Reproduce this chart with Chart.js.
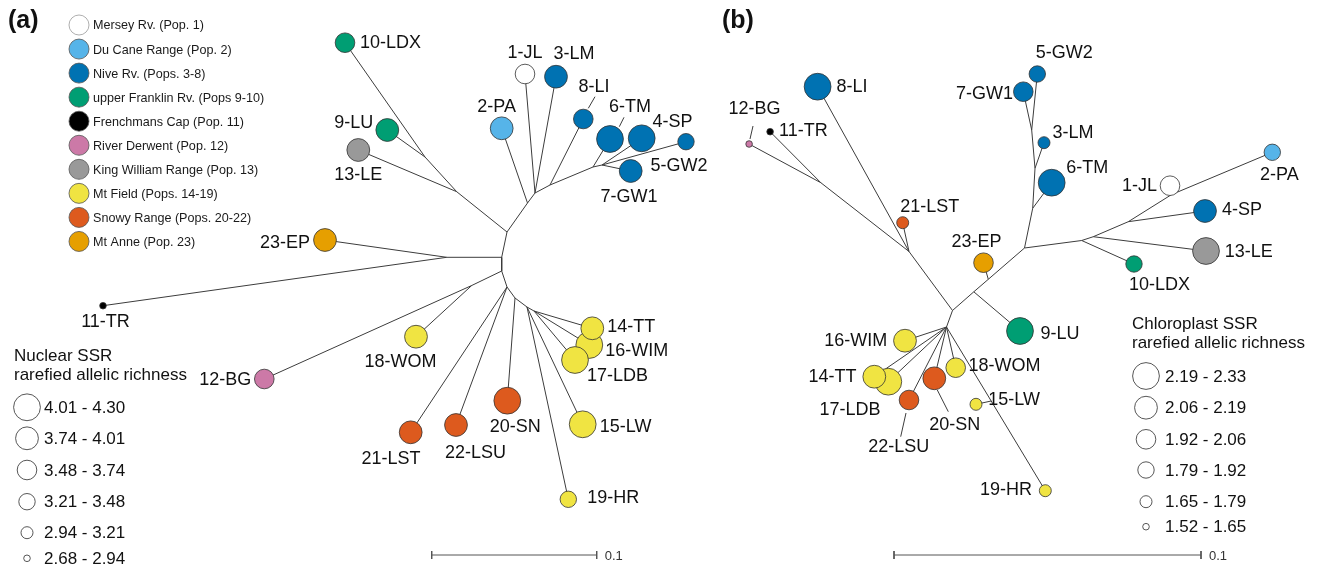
<!DOCTYPE html>
<html>
<head>
<meta charset="utf-8">
<script src="https://cdn.jsdelivr.net/npm/chart.js@4.4.1/dist/chart.umd.min.js"></script>
<style>
  html, body { margin: 0; padding: 0; background: #ffffff; }
  #wrap { position: relative; width: 1320px; height: 570px; }
  canvas { display: block; }
</style>
</head>
<body>
<div id="wrap"><canvas id="trees" width="1320" height="570"></canvas></div>
<script>
// ---- Populations and regions ----
const popCodes = ['1-JL','2-PA','3-LM','4-SP','5-GW2','6-TM','7-GW1','8-LI','9-LU','10-LDX','11-TR','12-BG',
                  '13-LE','14-TT','15-LW','16-WIM','17-LDB','18-WOM','19-HR','20-SN','21-LST','22-LSU','23-EP'];
const groupNames = ['Mersey Rv. (Pop. 1)','Du Cane Range (Pop. 2)','Nive Rv. (Pops. 3-8)','upper Franklin Rv. (Pops 9-10)',
                    'Frenchmans Cap (Pop. 11)','River Derwent (Pop. 12)','King William Range (Pop. 13)',
                    'Mt Field (Pops. 14-19)','Snowy Range (Pops. 20-22)','Mt Anne (Pop. 23)'];
const groupColors = ['#ffffff','#56b4e9','#0072b2','#009e73','#000000','#cc79a7','#999999','#f0e442','#dd5a1e','#e69f00'];
const popGroup = [0,1,2,2,2,2,2,2,3,3,4,5,6,7,7,7,7,7,7,8,8,8,9];

// ---- Nuclear SSR tree (a): tip layout, richness class, inner nodes, branches ----
const nuclearX = [525,501.7,556,641.7,686,610,630.7,583.3,387.3,345,103,264.3,358.3,592.3,582.7,589.3,575,416,568.3,507.3,410.7,456,325];
const nuclearY = [74,128.3,76.7,138.3,141.7,139,171,119,130,42.7,305.7,379,150,328.3,424.3,345,360,336.7,499.3,400.7,432.3,425,240];
const nuclearClass = [2,1,1,0,3,0,1,2,1,2,5,2,1,1,0,0,0,1,3,0,1,1,1];
const nuclearInnerX = [501.7,446.7,507,456.7,425,527.5,535,550,593,602,501.7,471.7,507,515,527,534];
const nuclearInnerY = [257.3,257.3,232,191.7,157,203,193,185,167,165,271,285.5,287,298,307,311];
const nuclearEdges = [
  ['n0','n1'],['n1','t23'],['n1','t11'],
  ['n0','n2'],['n2','n3'],['n3','t13'],['n3','n4'],['n4','t9'],['n4','t10'],
  ['n2','n5'],['n5','t2'],['n5','n6'],['n6','t1'],['n6','t3'],['n6','n7'],['n7','t8'],['n7','n8'],
  ['n8','t6'],['n8','n9'],['n9','t4'],['n9','t5'],['n9','t7'],
  ['n0','n10'],['n10','n11'],['n11','t18'],['n11','t12'],
  ['n10','n12'],['n12','t21'],['n12','t22'],['n12','n13'],['n13','t20'],['n13','n14'],
  ['n14','t19'],['n14','t15'],['n14','n15'],['n15','t14'],['n15','t16'],['n15','t17']
];
const nuclearBins = ['4.01 - 4.30','3.74 - 4.01','3.48 - 3.74','3.21 - 3.48','2.94 - 3.21','2.68 - 2.94'];

// ---- Chloroplast SSR tree (b) ----
const chloroX = [1170,1272.3,1044,1205,1037.3,1051.7,1023.3,817.6,1020,1134,770.1,749.1,1206,874.3,976,905,888.3,955.7,1045.3,934.3,902.7,909,983.5];
const chloroY = [185.7,152.3,142.7,211,74,182.7,91.7,86.7,331,264,131.7,144,251,376.7,404.3,340.7,381.7,367.7,490.7,378.3,222.7,400,262.7];
const chloroClass = [2,3,4,1,3,0,2,0,0,3,5,5,0,1,4,1,0,2,4,1,4,2,2];
const chloroInnerX = [952.5,909,820.8,973.8,988.3,1024.5,1032.7,1035,1031.7,1081.7,1093.3,1128.3,1171.7,946.5,991.2];
const chloroInnerY = [310.5,251.5,182.7,291.8,279.3,248,208.3,168.3,130,240.5,236.7,221.7,194.5,327,401];
const chloroEdges = [
  ['n0','n1'],['n1','t21'],['n1','t8'],['n1','n2'],['n2','t11'],['n2','t12'],
  ['n0','n3'],['n3','t9'],['n3','n4'],['n4','t23'],['n4','n5'],
  ['n5','n6'],['n6','t6'],['n6','n7'],['n7','t3'],['n7','n8'],['n8','t7'],['n8','t5'],
  ['n5','n9'],['n9','t10'],['n9','n10'],['n10','t13'],['n10','n11'],['n11','t4'],['n11','n12'],['n12','t1'],['n12','t2'],
  ['n0','n13'],['n13','t16'],['n13','t14'],['n13','t17'],['n13','t22'],['n13','t20'],['n13','t18'],
  ['n13','n14'],['n14','t15'],['n14','t19']
];
const chloroBins = ['2.19 - 2.33','2.06 - 2.19','1.92 - 2.06','1.79 - 1.92','1.65 - 1.79','1.52 - 1.65'];

// ---- Styling and placement ----
const classRadius = [13.4, 11.4, 9.8, 8.2, 6, 3.3];
const FONT = '"Liberation Sans", Arial, Helvetica, sans-serif';
const branchColor = '#3c3c3c';

// label offsets from the node: [dx, dy, align]
const nuclearLabelPos = [
  [0,-21,'center'],[-5,-21,'center'],[18,-23,'center'],[30.8,-16.3,'center'],[-7,24.3,'center'],
  [20,-32,'center'],[-1.7,26,'center'],[10.7,-32,'center'],[-14,-7,'right'],[15,0,'left'],
  [2.5,16,'center'],[-13,1,'right'],[0,25,'center'],[15,-1,'left'],[17,3,'left'],
  [16,6,'left'],[12,16,'left'],[-15.5,25,'center'],[19,-1,'left'],[8,26,'center'],
  [-19.7,27,'center'],[19.5,28,'center'],[-15,3,'right']
];
const chloroLabelPos = [
  [-13,0,'right'],[7,23,'center'],[8.5,-9.5,'left'],[17,-1,'left'],[27,-21,'center'],
  [14.6,-14.4,'left'],[-10.4,2.6,'right'],[19,0,'left'],[20.6,3.3,'left'],[25.4,21,'center'],
  [9,-1,'left'],[5.4,-34.7,'center'],[18.8,1.3,'left'],[-17.9,0,'right'],[12.3,-4.3,'left'],
  [-17.7,0,'right'],[-38.2,28.3,'center'],[12.8,-1.7,'left'],[-13.4,-0.7,'right'],[20.5,46.7,'center'],
  [27,-16,'center'],[-10.2,46.7,'center'],[-7,-21,'center']
];
const nuclearLeaders = [[595,96.7,588.3,108.3],[624,117.3,619.3,126.7]];
const chloroLeaders = [[750,139,753,126],[937.3,390,948.3,411.7],[906,413,900.7,436.7]];

const panels = [
  { tag: '(a)', tagX: 8, x: nuclearX, y: nuclearY, cls: nuclearClass, ix: nuclearInnerX, iy: nuclearInnerY,
    edges: nuclearEdges, labels: nuclearLabelPos, leaders: nuclearLeaders,
    bar: { x0: 431.7, x1: 596.7, y: 555, text: '0.1' },
    key: { title: ['Nuclear SSR', 'rarefied allelic richness'], titleX: 14, titleY: [356, 375],
           cx: 27, cy: [407.3,438.3,470,501.7,532.7,558.3], textX: 44, bins: nuclearBins } },
  { tag: '(b)', tagX: 722, x: chloroX, y: chloroY, cls: chloroClass, ix: chloroInnerX, iy: chloroInnerY,
    edges: chloroEdges, labels: chloroLabelPos, leaders: chloroLeaders,
    bar: { x0: 894, x1: 1201, y: 555, text: '0.1' },
    key: { title: ['Chloroplast SSR', 'rarefied allelic richness'], titleX: 1132, titleY: [324, 343.5],
           cx: 1146, cy: [376,407.7,439.3,470,501.7,526.7], textX: 1165, bins: chloroBins } }
];

function nodePoint(p, id) {
  const k = parseInt(id.slice(1), 10);
  return id[0] === 't' ? { x: p.x[k - 1], y: p.y[k - 1] } : { x: p.ix[k], y: p.iy[k] };
}

const datasets = [];
panels.forEach(p => {
  // branches
  p.edges.forEach(([a, b]) => {
    datasets.push({ type: 'scatter', showLine: true, data: [nodePoint(p, a), nodePoint(p, b)],
      borderColor: branchColor, borderWidth: 1, pointRadius: 0, order: 5, clip: false });
  });
  // label leader ticks
  p.leaders.forEach(([x0, y0, x1, y1]) => {
    datasets.push({ type: 'scatter', showLine: true, data: [{ x: x0, y: y0 }, { x: x1, y: y1 }],
      borderColor: branchColor, borderWidth: 1, pointRadius: 0, order: 5, clip: false });
  });
  // scale bar with end ticks
  const b = p.bar;
  [[b.x0, b.y, b.x1, b.y], [b.x0, b.y - 4, b.x0, b.y + 4], [b.x1, b.y - 4, b.x1, b.y + 4]].forEach(([x0, y0, x1, y1]) => {
    datasets.push({ type: 'scatter', showLine: true, data: [{ x: x0, y: y0 }, { x: x1, y: y1 }],
      borderColor: '#555555', borderWidth: 1, pointRadius: 0, order: 5, clip: false });
  });
  // population nodes, larger circles underneath smaller ones
  const idx = popCodes.map((_, i) => i).sort((i, j) => classRadius[p.cls[j]] - classRadius[p.cls[i]] || i - j);
  datasets.push({
    type: 'bubble',
    data: idx.map(i => ({ x: p.x[i], y: p.y[i], r: classRadius[p.cls[i]] })),
    backgroundColor: idx.map(i => groupColors[popGroup[i]]),
    borderColor: '#333333', borderWidth: 0.8, order: 0, clip: false
  });
});

const annotate = {
  id: 'annotate',
  afterDatasetsDraw(chart) {
    const ctx = chart.ctx, sx = chart.scales.x, sy = chart.scales.y;
    const px = v => sx.getPixelForValue(v), py = v => sy.getPixelForValue(v);
    ctx.save();
    ctx.textBaseline = 'middle';

    panels.forEach(p => {
      // node labels
      ctx.font = '18px ' + FONT;
      ctx.fillStyle = '#111111';
      popCodes.forEach((code, i) => {
        const [dx, dy, al] = p.labels[i];
        ctx.textAlign = al;
        ctx.fillText(code, px(p.x[i] + dx), py(p.y[i] + dy));
      });
      // panel tag
      ctx.font = 'bold 25px ' + FONT;
      ctx.textAlign = 'left';
      ctx.fillText(p.tag, p.tagX, 21);
      // scale bar label
      ctx.font = '13px ' + FONT;
      ctx.fillStyle = '#333333';
      ctx.fillText(p.bar.text, px(p.bar.x1) + 8, py(p.bar.y) + 1);
      // richness key
      const k = p.key;
      ctx.fillStyle = '#111111';
      ctx.font = '17px ' + FONT;
      k.title.forEach((t, j) => ctx.fillText(t, k.titleX, k.titleY[j]));
      k.bins.forEach((t, j) => {
        ctx.beginPath();
        ctx.arc(k.cx, k.cy[j], classRadius[j], 0, Math.PI * 2);
        ctx.fillStyle = '#ffffff';
        ctx.fill();
        ctx.lineWidth = 0.9;
        ctx.strokeStyle = '#444444';
        ctx.stroke();
        ctx.fillStyle = '#111111';
        ctx.fillText(t, k.textX, k.cy[j] + 1);
      });
    });

    // region key
    ctx.font = '12.6px ' + FONT;
    groupNames.forEach((name, g) => {
      const y = 25 + g * 24.05;
      ctx.beginPath();
      ctx.arc(79, y, 10, 0, Math.PI * 2);
      ctx.fillStyle = groupColors[g];
      ctx.fill();
      ctx.lineWidth = 0.8;
      ctx.strokeStyle = g === 0 ? '#9a9a9a' : '#555555';
      ctx.stroke();
      ctx.fillStyle = '#1a1a1a';
      ctx.textAlign = 'left';
      ctx.fillText(name, 93, y + 1);
    });
    ctx.restore();
  }
};

new Chart(document.getElementById('trees'), {
  type: 'scatter',
  data: { datasets },
  options: {
    responsive: false,
    animation: false,
    events: [],
    layout: { padding: 0, autoPadding: false },
    plugins: { legend: { display: false }, tooltip: { enabled: false } },
    scales: {
      x: { type: 'linear', min: 0, max: 1320, display: false },
      y: { type: 'linear', min: 0, max: 570, reverse: true, display: false }
    }
  },
  plugins: [annotate]
});
</script>
</body>
</html>
